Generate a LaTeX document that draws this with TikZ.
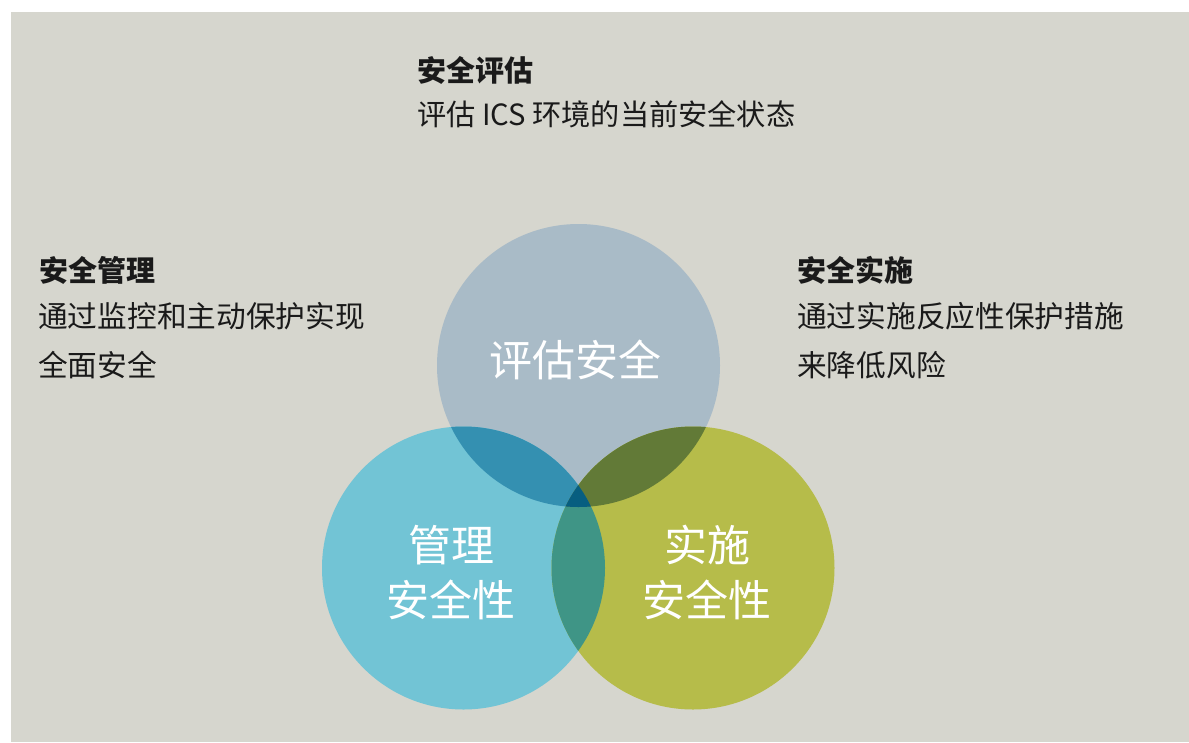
\documentclass[tikz,border=0pt]{standalone}
\usepackage{fontspec}
\setmainfont{Noto Sans CJK SC}
\newfontfamily\cjk{Noto Sans CJK SC}
\definecolor{bg}{HTML}{D6D6CE}
\definecolor{cA}{HTML}{A9BBC7}
\definecolor{cB}{HTML}{72C4D5}
\definecolor{cC}{HTML}{B6BC4A}
\definecolor{cAB}{HTML}{3490B1}
\definecolor{cAC}{HTML}{627A37}
\definecolor{cBC}{HTML}{3F9586}
\definecolor{cABC}{HTML}{075E80}
\definecolor{txt}{HTML}{1A1A1A}
\tikzset{
  head/.style={anchor=base west, inner sep=0pt, text=txt, font=\cjk\bfseries\fontsize{29}{29}\selectfont},
  body/.style={anchor=base west, inner sep=0pt, text=txt, font=\cjk\fontsize{29.7}{29.7}\selectfont},
  circlabel/.style={anchor=base, inner sep=0pt, text=white, font=\cjk\fontsize{43}{43}\selectfont},
}
\begin{document}
\begin{tikzpicture}[x=1pt,y=-1pt]
\useasboundingbox (0,0) rectangle (1189,742);
\fill[bg] (11,12) rectangle (1189,742);
\def\R{141.5}
\coordinate (A) at (578.5,365.5);
\coordinate (B) at (463.5,568);
\coordinate (C) at (693,568);
% base circles
\fill[cA] (A) circle (\R);
\fill[cB] (B) circle (\R);
\fill[cC] (C) circle (\R);
% B and C overlap
\begin{scope}
  \clip (B) circle (\R);
  \fill[cBC] (C) circle (\R);
\end{scope}
% A overlaps
\begin{scope}
  \clip (A) circle (\R);
  \fill[cAB] (B) circle (\R);
  \fill[cAC] (C) circle (\R);
\end{scope}
\begin{scope}
  \clip (A) circle (\R);
  \clip (B) circle (\R);
  \fill[cABC] (C) circle (\R);
\end{scope}
% circle labels
\node[circlabel] (la) at (575,376) {评估安全};
\node[circlabel] (lb1) at (451,561) {管理};
\node[circlabel] (lb2) at (451,616) {安全性};
\node[circlabel] (lc1) at (707,561) {实施};
\node[circlabel] (lc2) at (707,616) {安全性};
% top text
\node[head] (th) at (417,81) {安全评估};
\node[body, font=\cjk\fontsize{29.2}{29.2}\selectfont] (tb) at (417,125) {评估 ICS 环境的当前安全状态};
% left text
\node[head] (lh) at (39,281) {安全管理};
\node[body] (lt1) at (38,327) {通过监控和主动保护实现};
\node[body] (lt2) at (38,376) {全面安全};
% right text
\node[head] (rh) at (797,281) {安全实施};
\node[body] (rt1) at (797,327) {通过实施反应性保护措施};
\node[body] (rt2) at (797,376) {来降低风险};
\end{tikzpicture}
\end{document}
